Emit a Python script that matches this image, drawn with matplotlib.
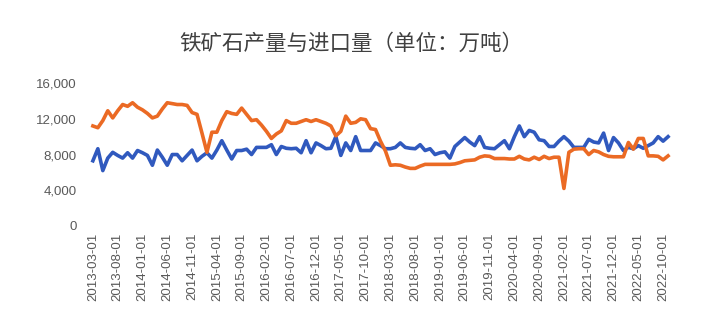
import matplotlib
matplotlib.use("Agg")
import matplotlib.pyplot as plt
import numpy as np
import pandas as pd

# monthly, 2013-03 .. 2022-11 (unit: 10k tonnes)
months = pd.date_range("2013-03-01", periods=117, freq="MS").strftime("%Y-%m-%d").tolist()

production = [
    7300, 8650, 6200, 7600, 8250, 7900, 7600, 8200, 7600, 8450,
    8200, 7900, 6800, 8500, 7700, 6800, 8000, 8000, 7300, 7900,
    8500, 7300, 7800, 8200, 7600, 8500, 9550, 8500, 7500, 8450,
    8450, 8600, 8000, 8800, 8800, 8800, 9100, 8000, 8900, 8700,
    8650, 8700, 8200, 9550, 8200, 9300, 9000, 8650, 8700, 10000,
    7900, 9300, 8450, 10000, 8450, 8450, 8450, 9300, 9000, 8650,
    8650, 8800, 9300, 8800, 8700, 8650, 9100, 8450, 8650, 8000,
    8200, 8300, 7600, 8900, 9400, 9900, 9400, 9000, 10000, 8800,
    8700, 8650, 9100, 9550, 8650, 10000, 11200, 10000, 10700, 10500,
    9650, 9550, 8900, 8900, 9500, 10000, 9500, 8800, 8800, 8800,
    9700, 9400, 9300, 10400, 8450, 9900, 9300, 8450, 8800, 8650,
    9000, 8700, 9000, 9300, 10000, 9500, 10000,
]

imports = [
    11200, 11000, 11800, 12900, 12100, 12900, 13600, 13400, 13800, 13300,
    13000, 12600, 12100, 12300, 13100, 13800, 13700, 13600, 13600, 13500,
    12700, 12500, 10400, 8250, 10500, 10500, 11800, 12800, 12600, 12500,
    13200, 12500, 11800, 11900, 11300, 10600, 9800, 10300, 10650, 11800,
    11500, 11500, 11700, 11900, 11700, 11900, 11700, 11500, 11200, 10100,
    10600, 12300, 11500, 11600, 12000, 11900, 10900, 10800, 9500, 8400,
    6800, 6850, 6800, 6600, 6450, 6450, 6700, 6900, 6900, 6900,
    6900, 6900, 6900, 6950, 7100, 7300, 7350, 7400, 7700, 7850,
    7800, 7550, 7550, 7550, 7500, 7500, 7800, 7500, 7400, 7700,
    7450, 7800, 7550, 7700, 7700, 4200, 8250, 8600, 8650, 8650,
    8000, 8450, 8300, 8000, 7800, 7750, 7750, 7750, 9350, 8600,
    9800, 9800, 7850, 7850, 7800, 7400, 7850,
]

y_ticks = [0, 4000, 8000, 12000, 16000]

plt.rcParams["font.family"] = ["Liberation Sans", "DejaVu Sans"]

fig = plt.figure(figsize=(7.2, 3.35), dpi=100)
ax = fig.add_axes([0.118, 0.3254, 0.8195, 0.4266])

x = np.arange(len(months))
ax.plot(x, production, color="#3059BE", linewidth=2.6, solid_joinstyle="round")
ax.plot(x, imports, color="#EB6A24", linewidth=2.6, solid_joinstyle="round")

ax.set_ylim(0, 16000)
ax.set_yticks(y_ticks)
ax.set_yticklabels([f"{v:,}" for v in y_ticks])
ax.set_xlim(-1.6, 117.4)
tick_idx = x[::5]
ax.set_xticks(tick_idx)
ax.set_xticklabels([months[i] for i in tick_idx], rotation=90)

ax.tick_params(axis="both", length=0, labelsize=9.5, colors="#595959")
ax.tick_params(axis="x", pad=5)
ax.tick_params(axis="y", pad=6)
for side in ax.spines.values():
    side.set_visible(False)

fig.text(0.488, 0.87, "铁矿石产量与进口量（单位：万吨）", ha="center", va="center",
         fontsize=15.5, color="#404040", family=["Noto Sans CJK SC", "DejaVu Sans"])

fig.savefig("out.png", dpi=100)
